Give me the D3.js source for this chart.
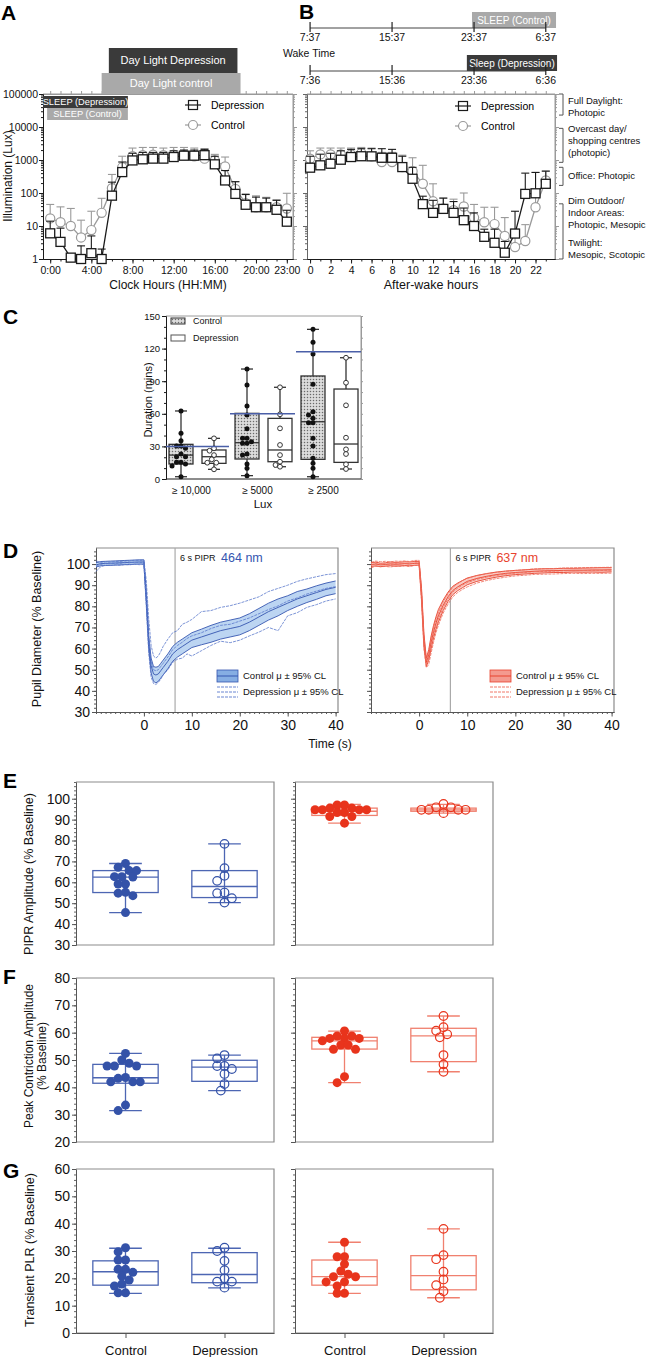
<!DOCTYPE html>
<html>
<head>
<meta charset="utf-8">
<script src="https://cdn.jsdelivr.net/npm/d3@7"></script>
<style>
body { margin: 0; background: #fff; }
svg text { font-family: "Liberation Sans", Arial, sans-serif; }
</style>
</head>
<body>
<svg width="651" height="1357"></svg>
<script>
// ---------- A: lux by clock hour ----------
var clockHours = [0,1,2,3,4,5,6,7,8,9,10,11,12,13,14,15,16,17,18,19,20,21,22,23];
var clockLabelHours = [0,4,8,12,16,20,23];
var clockLabels = ["0:00","4:00","8:00","12:00","16:00","20:00","23:00"];
var luxDepA    = [6,3.3,1.1,1.0,1.5,1.0,83,430,970,1050,1100,1100,1230,1350,1350,1400,740,240,94,44,37,37,31,13.5];
var luxDepAHi  = [14,8.6,1.2,2.5,5,2,213,870,1600,1700,1700,1700,1900,2000,2000,2100,1300,480,220,90,75,70,60,30];
var luxCtrlA   = [17,13,10,4.5,7.5,25,140,600,1300,1400,1450,1400,1450,1450,1300,1100,970,640,133,49,37,37,37,34];
var luxCtrlAHi = [45,38,34,15,28,69,365,1300,2300,2400,2400,2300,2400,2400,2300,2200,1480,1230,220,94,82,74,62,98];
var dayLightDepA = [5.7, 18.2], dayLightCtrlA = [5.0, 18.5];
var sleepDepA = [-0.7, 7.55], sleepCtrlA = [-0.3, 7.55];

// ---------- B: lux by after-wake hour ----------
var wakeHours = [0,1,2,3,4,5,6,7,8,9,10,11,12,13,14,15,16,17,18,19,20,21,22,23];
var wakeLabelHours = [0,2,4,6,8,10,12,14,16,18,20,22];
var luxDepB    = [585,690,770,1020,1230,1300,1290,1170,1170,610,270,46,25,33,25,15,10,4.7,3.1,1.55,5.9,94,98,190];
var luxDepBHi  = [1300,1500,1600,1900,2100,2200,2200,2200,2100,1300,600,80,60,70,55,35,25,8,8,3.4,28,400,420,460];
var luxCtrlB   = [1100,1480,1480,1480,1480,1620,1290,870,870,610,460,190,56,34,30,39,18,13,11.4,5,2.3,3.5,37,240];
var luxCtrlBHi = [1900,2300,2300,2300,2300,2400,2300,1700,1700,1400,1170,690,190,70,65,100,45,37,37,18,8,11,420,460];
var timelineHours = [0,8,16,23];
var ctrlClock = ["7:37","15:37","23:37","6:37"];
var depClock  = ["7:36","15:36","23:36","6:36"];
var sleepCtrlB = [15.8, 24.0], sleepDepB = [15.3, 24.1];
var lightNames = [["Full Daylight:","Photopic"],["Overcast day/","shopping centres","(photopic)"],["Office: Photopic"],
                  ["Dim Outdoor/","Indoor Areas:","Photopic, Mesopic"],["Twilight:","Mesopic, Scotopic"]];
var lightLabelLux = [43000, 4000, 340, 27, 2.2];
var lightBracketLux = [[100000,23000],[9100,850],[600,170],[47,1]];
var luxTicks = [1,10,100,1000,10000,100000];

// ---------- C: duration above lux thresholds ----------
var luxGroups = ["≥ 10,000","≥ 5000","≥ 2500"];
var durCtrl = [[62.6,42,35.3,30.4,30.4,28.2,23,20.5,20.5,15.3,15.3,13.8,12,2.1],
               [101.2,86.5,67.2,58.9,46.3,37.4,37.4,34.3,32.8,32.8,23,22.1,13.8,9.8,3.1],
               [137.7,125.8,115,87.1,61.9,58.9,55.8,51.8,51.8,37.4,30.4,19,14.4,9.8,2.1]];
var durDep  = [[37.4,28.2,26,22,18.1,15,15,8.9],
               [84.4,59.5,46.6,31.3,22,15.9,12.9,11.3],
               [111.6,88.6,67.8,38,27.3,23,13.5,9.2]];
var durCtrlBox = [[2.1,13.8,22,31.9,62.6],[3.1,18.4,33.4,60.4,101.2],[2.1,18.1,52.7,94.8,137.7]];
var durDepBox  = [[8.9,14.4,20.5,26.7,37.4],[11.3,15.9,26.7,55.8,84.4],[9.2,15.3,32.2,82.8,111.6]];
var recommendedMins = [30, 60, 117];
var durTicks = [0,30,60,90,120,150];

// ---------- D: pupil traces ----------
var pupilTime = [-10,-9,-8,-7,-6,-5,-4,-3,-2,-1,0,0.5,1,1.5,2,2.5,3,3.5,4,5,6,7,8,9,10,12,14,16,18,20,22,24,26,28,30,32,34,36,38,40];
var blueCtrlMean = [99.6,100.2,100.3,100.4,100.5,100.6,100.7,100.8,100.9,101,101,84,63,52,48,47.5,48,49.5,51,54,57.5,59.5,61,62.5,64,65.5,67,68.5,69.5,70.5,72.5,75,77.5,79.5,81.5,83.5,85,86.5,88,89];
var blueCtrlLo   = [98.6,99.2,99.3,99.4,99.5,99.6,99.7,99.8,99.9,100,100,81,60,48.5,44.5,43.8,44.5,46,47.5,50.5,54,56,57.5,59,60.5,61.8,63,64.5,65.5,66.5,68.5,71,73.5,75.5,78,80,81.8,83.3,85,86];
var blueCtrlHi   = [100.6,101.2,101.3,101.4,101.5,101.6,101.7,101.8,101.9,102,102,87,66,55.5,51.5,51.2,51.5,53,54.5,57.5,61,63,64.5,66,67.5,69.2,71,72.5,73.5,74.5,76.5,79,81.5,83.5,85,87,88.2,89.7,91,92];
var blueDepMean  = [99,99.8,100.2,100.1,100.4,100.3,100.6,100.5,100.9,100.7,100.8,86,66,54,50,49.5,50,51.5,53,56,59.5,61.5,63,64.8,66,67.5,69.5,71,71.5,73,74.5,76.5,78.5,80.2,82.5,84,85.8,87.2,88.5,89.3];
var blueDepLo    = [96.5,98.8,99.5,99.3,99.6,99.4,99.8,99.6,100,99.7,99.8,80,58,46.5,43.5,43,44,45.5,47.5,50,53.5,55,55.5,57.5,56.5,59,61.5,63.5,62.8,64,66,67.8,70,68.5,75.5,77,79.5,80.8,82.5,83.5];
var blueDepHi    = [101.5,100.8,101,100.9,101.2,101.2,101.4,101.4,101.8,101.7,101.8,92,74,61.5,56.5,55.5,56.5,58.5,61,64.5,67.5,68.5,71.5,72.5,73.8,77.5,78,79.5,80.3,81.5,83,84.5,87,88.5,90,91.8,93,94,95,95.5];
var redCtrlMean  = [99.8,100,99.6,99.8,100.1,99.9,100,100.2,100.1,100.3,100.4,86,64,53.5,57,63,68,72,75.5,80.5,84.5,87.5,89.2,90.5,91.8,93.2,94.2,95,95.6,96,96.3,96.6,96.8,96.9,97,97.1,97.1,97.2,97.2,97.3];
var redCtrlLo    = [98.9,99.1,98.8,99,99.2,99,99.1,99.3,99.2,99.4,99.5,83.5,61,51.5,54.5,60,65,69,72.5,78,82.3,85.5,87.4,88.8,90.2,91.8,92.9,93.8,94.5,95,95.3,95.6,95.8,96,96,96.2,96.1,96.2,96.1,96.3];
var redCtrlHi    = [100.7,100.9,100.4,100.6,101,100.8,100.9,101.1,101,101.2,101.3,88.5,67,55.5,59.5,66,71,75,78.5,83,86.7,89.5,91,92.2,93.4,94.6,95.5,96.2,96.7,97,97.3,97.6,97.8,97.8,98,98,98.1,98.2,98.3,98.3];
var redDepMean   = [99.5,100.2,99.9,100.1,99.8,100.2,100.1,100.3,100,100.5,100.6,85,63,52.5,55.5,61.5,66.5,70.5,74,79.5,83.5,86.8,88.6,90.1,91.2,92.8,93.8,94.6,95.2,95.7,96,96.4,96.5,96.6,96.8,96.9,96.9,97,97,97.1];
var redDepLo     = [98.2,99,98.7,98.9,98.6,99,98.9,99.1,98.8,99.3,99.4,82,60,51,52.5,58,63,67.5,71,76.8,81,84.5,86.5,88,89.2,91,92.2,93.1,93.8,94.4,94.7,95.1,95.2,95.3,95.5,95.6,95.5,95.6,95.6,95.7];
var redDepHi     = [100.8,101.4,101.1,101.3,101,101.4,101.3,101.5,101.2,101.7,101.8,88,66,54.5,58.5,65,70,73.5,77,82.2,86,89,90.7,92.2,93.2,94.6,95.4,96.1,96.6,97,97.3,97.7,97.8,97.9,98.1,98.2,98.3,98.4,98.4,98.5];
var pipr = 6.5;

// ---------- E/F/G: pupil metrics ----------
var groupNames = ["Control","Depression"];
var pipr464Ctrl = [69,67.2,65.6,65.6,62.7,62.7,62.5,59.2,59.2,55.2,54.8,53.6,45.5];
var pipr464Dep  = [78.4,66.8,63.1,60.7,55.1,54.8,52.4,50.3];
var pipr637Ctrl = [97,97,95.5,95.5,94.7,94.7,94.7,94.7,93.4,93.4,91.5,91.5,88.3];
var pipr637Dep  = [97.5,95.9,95.9,94.7,94.7,94.7,94.7,93.1];
var pipr464CtrlBox = [45.5,55.1,62.5,65.6,69], pipr464DepBox = [50.3,52.7,58,65.6,78.4];
var pipr637CtrlBox = [88.3,92,94,95.5,97.3], pipr637DepBox = [93.1,94,94.7,95.5,97.3];
var peak464Ctrl = [52.4,50,48.8,47.8,47.8,47.8,43.6,43.3,42,42,42,33.5,31.5];
var peak464Dep  = [51.8,50.6,47.8,47.8,46.7,44.9,41.2,38.8];
var peak637Ctrl = [60.6,58.8,58.8,57.9,57.9,57.9,57,55.5,55.5,53.9,53.9,43.9,41.7];
var peak637Dep  = [66.1,62,60.7,59.4,58.3,51.8,48.4,45.7];
var peak464CtrlBox = [31.5,41.5,43.5,48.4,52.4], peak464DepBox = [38.8,42.2,47.4,49.9,51.8];
var peak637CtrlBox = [41.7,54,57,58.3,60.6], peak637DepBox = [45.7,49.4,58.8,61.6,66.1];
var plr464Ctrl = [31.2,29.7,26.7,26.7,23.3,23.3,22.2,20.8,19.4,17.9,17.2,14.7,14.7];
var plr464Dep  = [31.2,30,26.4,23,20,18.8,18.8,16.6];
var plr637Ctrl = [33.2,27.9,27.9,25.2,22.7,21.5,20.6,20.6,18.7,18.7,17.2,14.5,14.5];
var plr637Dep  = [38.1,28.5,27,22.4,19.6,17.5,15.3,12.9];
var plr464CtrlBox = [14.5,17.5,22.4,26.4,31], plr464DepBox = [16.5,18.4,21.4,29.4,31];
var plr637CtrlBox = [14.5,17.5,20.6,26.7,33.2], plr637DepBox = [12.9,15.8,21,28.3,38.1];

var svg = d3.select("svg");
var ink = "#1a1a1a", grey = "#9a9a9a", frame = "#8c8c8c";
var blue = "#3452a8", blueBox = "#4d66b3", blueBand = "#bcd5f2";
var red = "#e8341c", redBox = "#f0806f";

function label(x, y, txt, size, fill, anchor, weight) {
  return svg.append("text").attr("x", x).attr("y", y).text(txt)
    .attr("font-size", size).attr("fill", fill || "#111")
    .attr("text-anchor", anchor || "start").attr("font-weight", weight || "normal");
}
function vlabel(x, y, txt, size) {
  return svg.append("text").attr("transform", "translate(" + x + "," + y + ") rotate(-90)")
    .attr("text-anchor", "middle").attr("font-size", size).attr("fill", "#111").text(txt);
}
function addAxis(g, axis, color, size) {
  g.call(axis);
  g.attr("font-size", size || 10);
  g.select(".domain").attr("stroke", color);
  g.selectAll(".tick line").attr("stroke", color);
  g.selectAll(".tick text").attr("fill", "#111");
  return g;
}
// simple beeswarm: offsets in px so dots do not pile up
function swarm(vals, y, r) {
  var pts = vals.map(function(v) { return {v: v, py: y(v), dx: 0}; })
    .sort(function(a, b) { return a.py - b.py; });
  var done = [];
  pts.forEach(function(p) {
    for (var k = 0; k < 40; k++) {
      var off = (k % 2 ? -1 : 1) * Math.ceil(k / 2) * r * 0.8;
      var hit = done.some(function(q) {
        var dx = q.dx - off, dy = q.py - p.py;
        return dx * dx + dy * dy < 2.4 * r * r;
      });
      if (!hit) { p.dx = off; break; }
    }
    done.push(p);
  });
  return pts;
}
function boxPlot(g, cx, w, capW, s, y, stroke, fill, sw) {
  g.append("line").attr("x1", cx).attr("x2", cx).attr("y1", y(s[0])).attr("y2", y(s[4])).attr("stroke", stroke).attr("stroke-width", sw);
  g.selectAll(null).data([s[0], s[4]]).enter().append("line")
    .attr("x1", cx - capW / 2).attr("x2", cx + capW / 2)
    .attr("y1", function(d) { return y(d); }).attr("y2", function(d) { return y(d); })
    .attr("stroke", stroke).attr("stroke-width", sw);
  g.append("rect").attr("x", cx - w / 2).attr("width", w).attr("y", y(s[3])).attr("height", y(s[1]) - y(s[3]))
    .attr("fill", fill).attr("stroke", stroke).attr("stroke-width", sw);
  g.append("line").attr("x1", cx - w / 2).attr("x2", cx + w / 2).attr("y1", y(s[2])).attr("y2", y(s[2])).attr("stroke", stroke).attr("stroke-width", sw);
}

// ================= A and B =================
var yLux = d3.scaleLog().domain([1, 100000]).range([259, 94]);
var luxMinor = [];
luxTicks.forEach(function(d) { if (d < 100000) [2,3,4,5,6,7,8,9].forEach(function(k) { luxMinor.push(d * k); }); });
var xA = d3.scaleLinear().domain([-0.7, 23.6]).range([43, 293]);
var xB = d3.scaleLinear().domain([-0.3, 23.9]).range([307, 555]);

function luxSeries(g, x, hours, vals, hi, color, shape) {
  g.selectAll(null).data(hours).enter().append("line")
    .attr("x1", function(d) { return x(d); }).attr("x2", function(d) { return x(d); })
    .attr("y1", function(d, i) { return yLux(vals[i]); }).attr("y2", function(d, i) { return yLux(hi[i]); })
    .attr("stroke", color).attr("stroke-width", 1.1);
  g.selectAll(null).data(hours).enter().append("line")
    .attr("x1", function(d) { return x(d) - 4; }).attr("x2", function(d) { return x(d) + 4; })
    .attr("y1", function(d, i) { return yLux(hi[i]); }).attr("y2", function(d, i) { return yLux(hi[i]); })
    .attr("stroke", color).attr("stroke-width", 1.1);
  g.append("path").datum(hours)
    .attr("d", d3.line().x(function(d) { return x(d); }).y(function(d, i) { return yLux(vals[i]); }))
    .attr("fill", "none").attr("stroke", color).attr("stroke-width", 1.3);
  if (shape === "square") {
    g.selectAll(null).data(hours).enter().append("rect")
      .attr("x", function(d) { return x(d) - 4.5; }).attr("y", function(d, i) { return yLux(vals[i]) - 4.5; })
      .attr("width", 9).attr("height", 9).attr("fill", "#fff").attr("stroke", color).attr("stroke-width", 1.3);
  } else {
    g.selectAll(null).data(hours).enter().append("circle")
      .attr("cx", function(d) { return x(d); }).attr("cy", function(d, i) { return yLux(vals[i]); })
      .attr("r", 4.6).attr("fill", "#fff").attr("stroke", color).attr("stroke-width", 1.2);
  }
}

function luxPanel(x, o) {
  var g = svg.append("g");
  var xr = x.range(), yr = yLux.range();
  g.append("path").attr("d", "M" + xr[0] + "," + yr[1] + "H" + xr[1] + "V" + yr[0])
    .attr("fill", "none").attr("stroke", grey);
  addAxis(g.append("g").attr("transform", "translate(0," + yr[1] + ")"),
    d3.axisTop(x).tickValues(o.hours).tickSize(3).tickFormat("").tickSizeOuter(0), grey);
  addAxis(g.append("g").attr("transform", "translate(" + xr[1] + ",0)"),
    d3.axisRight(yLux).tickValues(luxTicks).tickSize(4).tickFormat("").tickSizeOuter(0), grey);
  addAxis(g.append("g").attr("transform", "translate(" + xr[1] + ",0)"),
    d3.axisRight(yLux).tickValues(luxMinor).tickSize(2).tickFormat("").tickSizeOuter(0), grey);
  addAxis(g.append("g").attr("transform", "translate(" + xr[0] + ",0)"),
    d3.axisLeft(yLux).tickValues(luxTicks).tickSize(4).tickPadding(1)
      .tickFormat(o.yLabels ? d3.format("d") : "").tickSizeOuter(0), o.yLabels ? ink : "#666", 10.5);
  addAxis(g.append("g").attr("transform", "translate(" + xr[0] + ",0)"),
    d3.axisLeft(yLux).tickValues(luxMinor).tickSize(2).tickFormat("").tickSizeOuter(0), o.yLabels ? ink : "#666");
  addAxis(g.append("g").attr("transform", "translate(0," + yr[0] + ")"),
    d3.axisBottom(x).tickValues(o.hours).tickSize(2.5).tickFormat("").tickSizeOuter(0), ink);
  addAxis(g.append("g").attr("transform", "translate(0," + yr[0] + ")"),
    d3.axisBottom(x).tickValues(o.labelHours).tickSize(4.5)
      .tickFormat(function(d, i) { return o.labels[i]; }).tickSizeOuter(0), ink, 10.5);
  luxSeries(g, x, o.hours, o.ctrl, o.ctrlHi, grey, "circle");
  luxSeries(g, x, o.hours, o.dep, o.depHi, ink, "square");
  // legend
  var lg = g.append("g").attr("transform", "translate(" + o.legend[0] + "," + o.legend[1] + ")");
  lg.append("line").attr("x1", -8).attr("x2", 8).attr("stroke", ink).attr("stroke-width", 1.2);
  lg.append("rect").attr("x", -4.5).attr("y", -4.5).attr("width", 9).attr("height", 9).attr("fill", "none").attr("stroke", ink).attr("stroke-width", 1.2);
  lg.append("text").attr("x", 18).attr("y", 4).attr("font-size", 10.5).text("Depression");
  lg.append("line").attr("x1", -8).attr("x2", 8).attr("y1", 20).attr("y2", 20).attr("stroke", grey).attr("stroke-width", 1.2);
  lg.append("circle").attr("cy", 20).attr("r", 4.5).attr("fill", "#fff").attr("stroke", grey).attr("stroke-width", 1.2);
  lg.append("text").attr("x", 18).attr("y", 24).attr("font-size", 10.5).text("Control");
  return g;
}

luxPanel(xA, {hours: clockHours, labelHours: clockLabelHours, labels: clockLabels, yLabels: true,
  dep: luxDepA, depHi: luxDepAHi, ctrl: luxCtrlA, ctrlHi: luxCtrlAHi, legend: [193, 105]});
luxPanel(xB, {hours: wakeHours, labelHours: wakeLabelHours, labels: wakeLabelHours.map(String), yLabels: false,
  dep: luxDepB, depHi: luxDepBHi, ctrl: luxCtrlB, ctrlHi: luxCtrlBHi, legend: [463, 106]});

// period boxes above A
function periodBox(x, span, y0, h, fill, txt, size) {
  svg.append("rect").attr("x", x(span[0])).attr("width", x(span[1]) - x(span[0])).attr("y", y0).attr("height", h).attr("fill", fill);
  label((x(span[0]) + x(span[1])) / 2, y0 + h / 2 + size * 0.36, txt, size, "#fff", "middle");
}
periodBox(xA, dayLightDepA, 48, 25, "#3a3a3a", "Day Light Depression", 11);
periodBox(xA, dayLightCtrlA, 73, 21, "#a9a9a9", "Day Light control", 11);
periodBox(xA, sleepDepA, 96, 12, "#3a3a3a", "SLEEP (Depression)", 9.3);
periodBox(xA, sleepCtrlA, 108, 12, "#a9a9a9", "SLEEP (Control)", 9.3);

// wake-time timelines above B
function timeline(yLine, labels, span, fill, txt) {
  svg.append("rect").attr("x", xB(span[0])).attr("width", xB(span[1]) - xB(span[0]))
    .attr("y", yLine - 16).attr("height", 16).attr("fill", fill);
  label((xB(span[0]) + xB(span[1])) / 2, yLine - 4.5, txt, 10, "#fff", "middle");
  svg.append("line").attr("x1", xB(timelineHours[0])).attr("x2", xB(timelineHours[3]))
    .attr("y1", yLine).attr("y2", yLine).attr("stroke", "#444");
  svg.selectAll(null).data(timelineHours).enter().append("line")
    .attr("x1", function(d) { return xB(d); }).attr("x2", function(d) { return xB(d); })
    .attr("y1", yLine - 6).attr("y2", yLine + 4).attr("stroke", "#222").attr("stroke-width", 1.2);
  svg.selectAll(null).data(timelineHours).enter().append("text")
    .attr("x", function(d) { return xB(d); }).attr("y", yLine + 13)
    .attr("text-anchor", "middle").attr("font-size", 10.5).attr("fill", "#111")
    .text(function(d, i) { return labels[i]; });
}
timeline(28, ctrlClock, sleepCtrlB, "#a9a9a9", "SLEEP (Control)");
timeline(71, depClock, sleepDepB, "#3a3a3a", "Sleep (Depression)");
label(283, 57, "Wake Time", 10.5);

// light level brackets right of B
lightBracketLux.forEach(function(b) {
  var y0 = yLux(b[0]), y1 = yLux(b[1]);
  svg.append("path").attr("d", "M559," + y0 + "H563V" + y1 + "H559").attr("fill", "none").attr("stroke", "#555");
});
lightNames.forEach(function(lines, i) {
  var cy = yLux(lightLabelLux[i]);
  lines.forEach(function(t, j) {
    label(568, cy - (lines.length - 1) * 6 + 4 + j * 12, t, 9.5);
  });
});

label(1, 20, "A", 21, "#000", "start", "bold");
label(299, 19, "B", 21, "#000", "start", "bold");
vlabel(12, 176, "Illumination (Lux)", 12);
label(168, 289, "Clock Hours (HH:MM)", 12, "#111", "middle");
label(431, 289, "After-wake hours", 12.5, "#111", "middle");

// ================= C =================
var yC = d3.scaleLinear().domain([0, 150]).range([479, 316]);
var xC = d3.scalePoint().domain([0,1,2,3,4,5]).range([181, 346]);
var defs = svg.append("defs");
var pat = defs.append("pattern").attr("id", "stip").attr("width", 3).attr("height", 3).attr("patternUnits", "userSpaceOnUse");
pat.append("rect").attr("width", 3).attr("height", 3).attr("fill", "#dcdcdc");
pat.append("circle").attr("cx", 1.5).attr("cy", 1.5).attr("r", 0.75).attr("fill", "#6a6a6a");

var gC = svg.append("g");
gC.append("path").attr("d", "M166,316H361V479").attr("fill", "none").attr("stroke", grey);
addAxis(gC.append("g").attr("transform", "translate(361,0)"),
  d3.axisRight(yC).tickValues(d3.range(0, 151, 10)).tickSize(2).tickFormat("").tickSizeOuter(0), grey);
addAxis(gC.append("g").attr("transform", "translate(166,0)"),
  d3.axisLeft(yC).tickValues(d3.range(0, 151, 10)).tickSize(2).tickFormat("").tickSizeOuter(0), ink);
addAxis(gC.append("g").attr("transform", "translate(166,0)"),
  d3.axisLeft(yC).tickValues(durTicks).tickSize(4).tickPadding(2).tickSizeOuter(0), ink, 9.5);
gC.append("line").attr("x1", 166).attr("x2", 361).attr("y1", 479).attr("y2", 479).attr("stroke", ink);

luxGroups.forEach(function(name, i) {
  var cc = xC(2 * i), cd = xC(2 * i + 1);
  boxPlot(gC, cc, 24, 12, durCtrlBox[i], yC, "#333", "url(#stip)", 1.3);
  boxPlot(gC, cd, 24, 12, durDepBox[i], yC, "#333", "#fff", 1.3);
  swarm(durCtrl[i], yC, 2.8).forEach(function(p) {
    gC.append("circle").attr("cx", cc + p.dx).attr("cy", p.py).attr("r", 2.5).attr("fill", "#111");
  });
  swarm(durDep[i], yC, 2.8).forEach(function(p) {
    gC.append("circle").attr("cx", cd + p.dx).attr("cy", p.py).attr("r", 2.4).attr("fill", "#fff").attr("stroke", "#222").attr("stroke-width", 0.9);
  });
  gC.append("line").attr("x1", Math.max(166, cc - 17)).attr("x2", cd + 15)
    .attr("y1", yC(recommendedMins[i])).attr("y2", yC(recommendedMins[i]))
    .attr("stroke", "#4a5fa8").attr("stroke-width", 1.5);
  label((cc + cd) / 2 - 6, 494, name, 10, "#111", "middle");
});
gC.append("rect").attr("x", 171).attr("y", 318).attr("width", 14).attr("height", 6).attr("fill", "url(#stip)").attr("stroke", "#333");
label(193, 324, "Control", 9);
gC.append("rect").attr("x", 171).attr("y", 335).attr("width", 14).attr("height", 6).attr("fill", "#fff").attr("stroke", "#555");
label(193, 341, "Depression", 9);
label(263, 508, "Lux", 11.5, "#111", "middle");
vlabel(152, 400, "Duration (mins)", 11);
label(3, 324, "C", 21, "#000", "start", "bold");

// ================= D =================
var yD = d3.scaleLinear().domain([30, 107.6]).range([712, 548]);
function pupilPanel(x, o) {
  var g = svg.append("g");
  var xr = x.range();
  g.append("path").attr("d", "M" + xr[0] + ",548H" + xr[1] + "V712").attr("fill", "none").attr("stroke", frame).attr("stroke-width", 1.2);
  addAxis(g.append("g").attr("transform", "translate(" + xr[0] + ",0)"),
    d3.axisLeft(yD).tickValues(d3.range(30, 107, 2)).tickSize(2).tickFormat("").tickSizeOuter(0), "#555");
  addAxis(g.append("g").attr("transform", "translate(" + xr[0] + ",0)"),
    d3.axisLeft(yD).tickValues(d3.range(30, 101, 10)).tickSize(4).tickPadding(2)
      .tickFormat(o.yLabels ? d3.format("d") : "").tickSizeOuter(0), "#555", 14);
  addAxis(g.append("g").attr("transform", "translate(0,712)"),
    d3.axisBottom(x).tickValues(d3.range(-10, 41, 1)).tickSize(2).tickFormat("").tickSizeOuter(0), "#555");
  addAxis(g.append("g").attr("transform", "translate(0,712)"),
    d3.axisBottom(x).tickValues([0, 10, 20, 30, 40]).tickSize(4.5).tickPadding(4).tickSizeOuter(0), "#555", 14);
  g.append("line").attr("x1", x(pipr)).attr("x2", x(pipr)).attr("y1", 548).attr("y2", 712).attr("stroke", "#aaa").attr("stroke-width", 1.2);
  var t = function(d, i) { return x(pupilTime[i]); };
  g.append("path").datum(pupilTime)
    .attr("d", d3.area().x(t).y0(function(d, i) { return yD(o.ctrl[1][i]); }).y1(function(d, i) { return yD(o.ctrl[2][i]); }))
    .attr("fill", o.band).attr("opacity", o.bandOpacity);
  o.ctrl.forEach(function(arr) {
    g.append("path").datum(arr).attr("d", d3.line().x(t).y(function(d) { return yD(d); }))
      .attr("fill", "none").attr("stroke", o.line).attr("stroke-width", 0.9);
  });
  o.dep.forEach(function(arr) {
    g.append("path").datum(arr).attr("d", d3.line().x(t).y(function(d) { return yD(d); }))
      .attr("fill", "none").attr("stroke", o.dash).attr("stroke-width", 0.8).attr("stroke-dasharray", "3,1");
  });
  label(x(pipr) + 5, 561, "6 s PIPR", 9);
  label(x(pipr) + 46, 562, o.nm, 12.5, o.line);
  // legend
  var lx = o.legend;
  g.append("rect").attr("x", lx).attr("y", 670).attr("width", 21).attr("height", 12).attr("fill", o.legendFill).attr("stroke", o.line).attr("stroke-width", 0.8);
  g.append("line").attr("x1", lx).attr("x2", lx + 21).attr("y1", 676).attr("y2", 676).attr("stroke", o.line).attr("stroke-width", 1);
  [687, 692, 697].forEach(function(yy) {
    g.append("line").attr("x1", lx).attr("x2", lx + 21).attr("y1", yy).attr("y2", yy).attr("stroke", o.dash).attr("stroke-width", 0.9).attr("stroke-dasharray", "3,1");
  });
  label(lx + 26, 679, "Control μ ± 95% CL", 9.5);
  label(lx + 26, 695, "Depression μ ± 95% CL", 9.5);
}
pupilPanel(d3.scaleLinear().domain([-10, 40.5]).range([96, 338]), {
  yLabels: true, nm: "464 nm", line: "#3556b0", dash: "#5a78cc", band: blueBand, bandOpacity: 1, legendFill: "#86aee3",
  ctrl: [blueCtrlMean, blueCtrlLo, blueCtrlHi], dep: [blueDepMean, blueDepLo, blueDepHi], legend: 217});
pupilPanel(d3.scaleLinear().domain([-10, 40.5]).range([371, 614]), {
  yLabels: false, nm: "637 nm", line: "#e8432e", dash: "#ee6a58", band: "#f6b4aa", bandOpacity: 0.7, legendFill: "#f49a8f",
  ctrl: [redCtrlMean, redCtrlLo, redCtrlHi], dep: [redDepMean, redDepLo, redDepHi], legend: 490});
label(3, 558, "D", 21, "#000", "start", "bold");
vlabel(41, 629, "Pupil Diameter (% Baseline)", 12.5);
label(330, 748, "Time (s)", 12, "#111", "middle");

// ================= E, F, G =================
function metricPanel(o) {
  var g = svg.append("g");
  var y = d3.scaleLinear().domain(o.domain).range([o.bottom, o.top]);
  var x = d3.scalePoint().domain(groupNames).range([o.left, o.right]).padding(0.5);
  var step = x.step();
  g.append("path").attr("d", "M" + o.left + "," + o.top + "H" + o.right + "V" + o.bottom + "H" + o.left)
    .attr("fill", "none").attr("stroke", frame).attr("stroke-width", 1.2);
  addAxis(g.append("g").attr("transform", "translate(" + o.left + ",0)"),
    d3.axisLeft(y).tickValues(d3.range(o.domain[0], o.domain[1] + 0.1, 2)).tickSize(2).tickFormat("").tickSizeOuter(0), "#666");
  addAxis(g.append("g").attr("transform", "translate(" + o.left + ",0)"),
    d3.axisLeft(y).tickValues(o.ticks).tickSize(4).tickPadding(2)
      .tickFormat(o.yLabels ? d3.format("d") : "").tickSizeOuter(0), "#555", 14);
  if (o.xLabels) {
    addAxis(g.append("g").attr("transform", "translate(0," + o.bottom + ")"),
      d3.axisBottom(x).tickSize(5).tickPadding(8).tickSizeOuter(0), "#555", 13);
    g.select(".domain").attr("stroke", frame);
  }
  boxPlot(g, x("Control"), step * 0.66, step * 0.33, o.ctrlBox, y, o.boxColor, "none", 1.3);
  boxPlot(g, x("Depression"), step * 0.66, step * 0.33, o.depBox, y, o.boxColor, "none", 1.3);
  swarm(o.ctrl, y, 4.6).forEach(function(p) {
    g.append("circle").attr("cx", x("Control") + p.dx).attr("cy", p.py).attr("r", 4.5).attr("fill", o.color);
  });
  swarm(o.dep, y, 4.6).forEach(function(p) {
    g.append("circle").attr("cx", x("Depression") + p.dx).attr("cy", p.py).attr("r", 4.3)
      .attr("fill", "none").attr("stroke", o.color).attr("stroke-width", 1.2);
  });
}
var rows = [
  {top: 782, bottom: 945, domain: [30, 108], ticks: d3.range(30, 101, 10),
   blue: [pipr464Ctrl, pipr464CtrlBox, pipr464Dep, pipr464DepBox], red: [pipr637Ctrl, pipr637CtrlBox, pipr637Dep, pipr637DepBox]},
  {top: 978, bottom: 1142, domain: [20, 80], ticks: d3.range(20, 81, 10),
   blue: [peak464Ctrl, peak464CtrlBox, peak464Dep, peak464DepBox], red: [peak637Ctrl, peak637CtrlBox, peak637Dep, peak637DepBox]},
  {top: 1169, bottom: 1333, domain: [0, 60], ticks: d3.range(0, 61, 10), xLabels: true,
   blue: [plr464Ctrl, plr464CtrlBox, plr464Dep, plr464DepBox], red: [plr637Ctrl, plr637CtrlBox, plr637Dep, plr637DepBox]}
];
rows.forEach(function(r) {
  metricPanel({left: 76, right: 274, top: r.top, bottom: r.bottom, domain: r.domain, ticks: r.ticks, yLabels: true, xLabels: r.xLabels,
    color: blue, boxColor: blueBox, ctrl: r.blue[0], ctrlBox: r.blue[1], dep: r.blue[2], depBox: r.blue[3]});
  metricPanel({left: 295, right: 493, top: r.top, bottom: r.bottom, domain: r.domain, ticks: r.ticks, yLabels: false, xLabels: r.xLabels,
    color: red, boxColor: redBox, ctrl: r.red[0], ctrlBox: r.red[1], dep: r.red[2], depBox: r.red[3]});
});
label(3, 788, "E", 21, "#000", "start", "bold");
label(3, 984, "F", 21, "#000", "start", "bold");
label(3, 1178, "G", 21, "#000", "start", "bold");
vlabel(33, 874, "PIPR Amplitude (% Baseline)", 12.5);
vlabel(33, 1056, "Peak Contriction Amplitude", 12);
vlabel(46, 1056, "(% Baseline)", 12);
vlabel(34, 1250, "Transient PLR (% Baseline)", 12.5);
</script>
</body>
</html>
